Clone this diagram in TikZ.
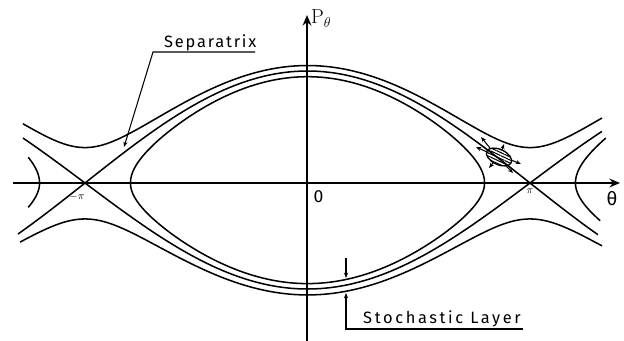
\documentclass[tikz,border=0pt]{standalone}
\usepackage[no-math]{fontspec}
\setmainfont{Fira Sans}
\usetikzlibrary{arrows.meta,patterns.meta}
\begin{document}
\begin{tikzpicture}[x=0.03cm,y=-0.03cm,
  curve/.style={line width=1.3pt, line join=round},
  axis/.style={line width=2.5pt,-{Stealth[length=9pt,width=7.5pt]}},
  leader/.style={line width=0.9pt},
  tipped/.style={-{Stealth[length=4.5pt,width=3.5pt]}},
  hand/.style={font=\fontsize{14}{16}\selectfont\addfontfeatures{LetterSpace=16}, inner sep=0pt},
  handsep/.style={font=\fontsize{14}{16}\selectfont\addfontfeatures{LetterSpace=11}, inner sep=0pt},
  lbl/.style={inner sep=0pt},
  declare function={th(\u)=(\u-307.5)*0.80899;}
]
\useasboundingbox (0,0) rectangle (624,341);

% axes
\coordinate (hx0) at (13,183);
\coordinate (hx1) at (620,183);
\coordinate (vy0) at (307,341);
\coordinate (vy1) at (307,15);
\draw[axis] (hx0) -- (hx1);
\draw[axis] (vy0) -- (vy1);

% separatrices
\draw[curve] plot[domain=18:598, samples=160] (\x, {183-112*cos(th(\x)/2)});
\draw[curve] plot[domain=23:602, samples=160] (\x, {183+106*cos(th(\x)/2)});

% outer rotating orbits
\draw[curve] plot[domain=23:602, samples=160] (\x, {183-56*sqrt(2*(cos(th(\x))+1.2))});
\draw[curve] plot[domain=20:602, samples=160] (\x, {183+53*sqrt(2*(cos(th(\x))+1.23))});

% inner libration orbit
\draw[curve] plot[domain=-90:90, samples=90] ({307.5+2*asin(0.949*sin(\x))/0.80899}, {183-106.3*cos(\x)})
  -- plot[domain=90:270, samples=90] ({307.5+2*asin(0.949*sin(\x))/0.80899}, {183-100.6*cos(\x)}) -- cycle;

% neighbouring cells
\draw[curve] plot[domain=-65:-90, samples=30] ({752.5+2*asin(0.949*sin(\x))/0.80899}, {183-106.3*cos(\x)})
  -- plot[domain=-90:-112, samples=30] ({752.5+2*asin(0.949*sin(\x))/0.80899}, {183-100.6*cos(\x)});
\draw[curve] plot[domain=76:90, samples=30] ({-137.5+2*asin(0.949*sin(\x))/0.80899}, {183-106.3*cos(\x)})
  -- plot[domain=90:104, samples=30] ({-137.5+2*asin(0.949*sin(\x))/0.80899}, {183-100.6*cos(\x)});

% stochastic blob
\draw[line width=1.1pt, pattern={Lines[angle=-25,distance=2.4pt,line width=0.9pt]}, rotate around={-25:(499,157)}]
  (499,157) ellipse [x radius=11.5pt, y radius=6.5pt];
\foreach \sx/\sy/\tx/\ty in {487/152/476/147, 490/148/481/137, 502/150/504/144, 511/160/521/164, 506/166/513/173, 493/163/489/168}
  \draw[leader,tipped] (\sx,\sy) -- (\tx,\ty);

% labels
\node[lbl, anchor=base west, font=\fontsize{18}{20}\selectfont] (Pth) at (311,24) {$\mathrm{P}_{\theta}$};
\node[lbl, font=\fontsize{16}{18}\selectfont] (th) at (612,199) {θ};
\node[lbl, font=\fontsize{15}{17}\selectfont] (zero) at (318.5,196.5) {0};
\node[lbl, font=\fontsize{9}{10}\selectfont] (mpi) at (77,197) {$-\pi$};
\node[lbl, font=\fontsize{9}{10}\selectfont] (ppi) at (530,191.5) {$\pi$};

\node[handsep, anchor=base west] (sep) at (164,48) {Separatrix};
\node[hand, anchor=base west] (sto) at (363,323) {Stochastic Layer};

\coordinate (sepR) at (255,52);
\coordinate (sepL) at (153,52);
\coordinate (sepTip) at (124,147);
\draw[leader,tipped] (sepR) -- (sepL) -- (sepTip);

\coordinate (stR) at (523,329);
\coordinate (stC) at (346,329);
\coordinate (stTip) at (346,293);
\draw[leader,tipped] (stR) -- (stC) -- (stTip);
\coordinate (dnA) at (346,258);
\coordinate (dnB) at (346,278);
\draw[leader,tipped] (dnA) -- (dnB);
\end{tikzpicture}
\end{document}
